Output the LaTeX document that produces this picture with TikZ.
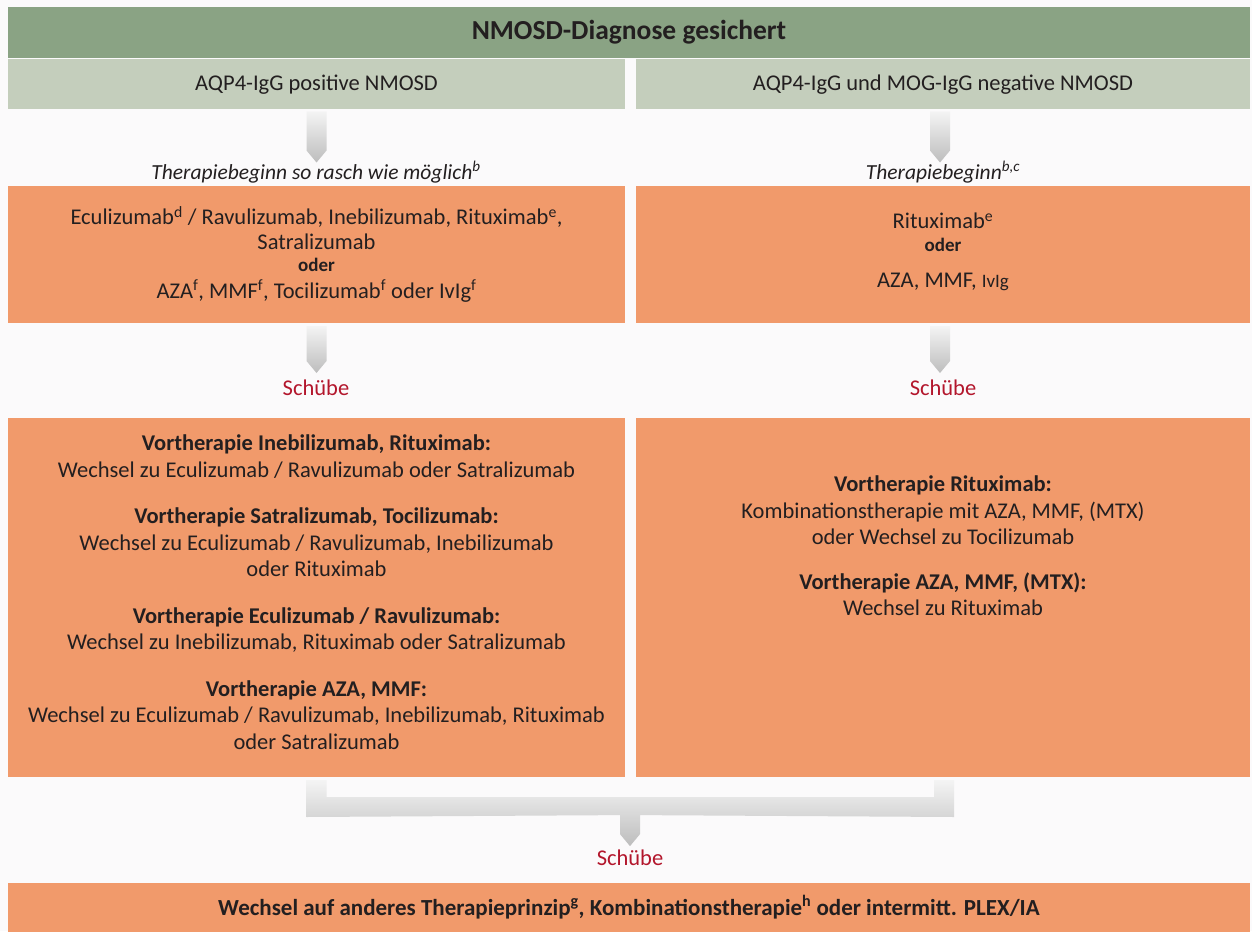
\documentclass[tikz,border=0pt]{standalone}
\usepackage{fontspec}
\setmainfont{Carlito}
\usetikzlibrary{calc}
\definecolor{dgreen}{HTML}{8AA384}
\definecolor{lgreen}{HTML}{C4CEBC}
\definecolor{orng}{HTML}{F19A6B}
\definecolor{txt}{HTML}{231F20}
\definecolor{schred}{HTML}{B3162C}
\definecolor{bgc}{HTML}{FBFAFB}
\definecolor{arrtop}{HTML}{F4F4F4}
\definecolor{arrbot}{HTML}{BDBDBD}
\begin{document}
\begin{tikzpicture}[x=1pt,y=-1pt,
  every node/.style={inner sep=0pt, outer sep=0pt, text=txt},
  hdr/.style={fill=lgreen, minimum height=50pt, font=\fontsize{22.5}{26}\selectfont},
  obox/.style={fill=orng},
  body/.style={align=center, font=\fontsize{22.5}{26.5}\selectfont},
  note/.style={font=\itshape\fontsize{21.5}{24}\selectfont},
  schub/.style={text=schred, font=\fontsize{22.5}{26}\selectfont},
  garrow/.style={top color=arrtop, bottom color=arrbot, draw=none}
]
\fill[bgc] (0,0) rectangle (1252,931);
\useasboundingbox (0,0) rectangle (1252,931);

% top bar
\node[fill=dgreen, minimum width=1242pt, minimum height=51pt,
      font=\bfseries\fontsize{27.5}{30}\selectfont] (top) at (629,32.5) {NMOSD-Diagnose gesichert};

% headers
\node[hdr, minimum width=617pt] (hl) at (316.5,84.5) {AQP4-IgG positive NMOSD};
\node[hdr, minimum width=614pt] (hr) at (943,84.5) {AQP4-IgG und MOG-IgG negative NMOSD};

% notes
\node[note] (nl) at (316,172) {Therapiebeginn so rasch wie möglich\textsuperscript{b}};
\node[note] (nr) at (943,172) {Therapiebeginn\textsuperscript{b,c}};

% row 1 boxes
\node[obox, minimum width=617pt, minimum height=137pt] (l1) at (316.5,254.5) {};
\node[obox, minimum width=614pt, minimum height=137pt] (r1) at (943,254.5) {};
\node[body] (l1t) at (316.5,254) {Eculizumab\textsuperscript{d} / Ravulizumab, Inebilizumab, Rituximab\textsuperscript{e},\\[-2pt]
  Satralizumab\\[-4pt]
  {\bfseries\fontsize{19}{22}\selectfont oder}\\
  AZA\textsuperscript{f}, MMF\textsuperscript{f}, Tocilizumab\textsuperscript{f} oder IvIg\textsuperscript{f}};
\node[body] (r1t) at (943,252) {Rituximab\textsuperscript{e}\\[-4pt]
  {\bfseries\fontsize{19}{22}\selectfont oder}\\[10pt]
  AZA, MMF, {\fontsize{19}{22}\selectfont IvIg}};

% Schübe labels
\node[schub] (sl) at (316,388) {Schübe};
\node[schub] (sr) at (943,388) {Schübe};

% row 2 boxes
\node[obox, minimum width=617pt, minimum height=359pt] (l2) at (316.5,597.5) {};
\node[obox, minimum width=614pt, minimum height=359pt] (r2) at (943,597.5) {};
\node[body] (l2t) at (316.5,592) {{\bfseries Vortherapie Inebilizumab, Rituximab:}\\
  Wechsel zu Eculizumab / Ravulizumab oder Satralizumab\\[20pt]
  {\bfseries Vortherapie Satralizumab, Tocilizumab:}\\
  Wechsel zu Eculizumab / Ravulizumab, Inebilizumab\\
  oder Rituximab\\[20pt]
  {\bfseries Vortherapie Eculizumab / Ravulizumab:}\\
  Wechsel zu Inebilizumab, Rituximab oder Satralizumab\\[20pt]
  {\bfseries Vortherapie AZA, MMF:}\\
  Wechsel zu Eculizumab / Ravulizumab, Inebilizumab, Rituximab\\
  oder Satralizumab};
\node[body] (r2t) at (943,546) {{\bfseries Vortherapie Rituximab:}\\
  Kombinationstherapie mit AZA, MMF, (MTX)\\
  oder Wechsel zu Tocilizumab\\[18pt]
  {\bfseries Vortherapie AZA, MMF, (MTX):}\\
  Wechsel zu Rituximab};

% final
\node[schub] (sb) at (630,858) {Schübe};
\node[obox, minimum width=1242pt, minimum height=49pt,
      font=\bfseries\fontsize{23}{26}\selectfont] (fin) at (629,907.5)
  {Wechsel auf anderes Therapieprinzip\textsuperscript{g}, Kombinationstherapie\textsuperscript{h} oder intermitt. PLEX/IA};

% gray arrows
\newcommand\grayarrow[2]{%
  \shade[garrow] ($(#1)+(-10,0)$) -- ($(#1)+(10,0)$) -- ($(#2)+(10,-12)$) -- (#2) -- ($(#2)+(-10,-12)$) -- cycle;}
\coordinate (a1s) at ($(hl.south)+(0,2)$);
\coordinate (a1e) at ($(hl.south)+(0,53)$);
\grayarrow{a1s}{a1e}
\coordinate (a2s) at ($(hr.south)+(-3,2)$);
\coordinate (a2e) at ($(hr.south)+(-3,53)$);
\grayarrow{a2s}{a2e}
\coordinate (a3s) at ($(l1.south)+(0,3)$);
\coordinate (a3e) at ($(l1.south)+(0,50)$);
\grayarrow{a3s}{a3e}
\coordinate (a4s) at ($(r1.south)+(-3,3)$);
\coordinate (a4e) at ($(r1.south)+(-3,50)$);
\grayarrow{a4s}{a4e}

% bracket
\coordinate (bl) at ($(l2.south)+(0,3)$);
\coordinate (br) at ($(r2.south)+(1,3)$);
\coordinate (bt) at ($(sb.north)+(0,-4)$);
\shade[garrow] ($(bl)+(-10,0)$) -- ($(bl)+(10,0)$) -- ($(bl)+(10,17)$) -- ($(br)+(-10,17)$)
  -- ($(br)+(-10,0)$) -- ($(br)+(10,0)$) -- ($(br)+(10,37)$)
  -- ($(bt)+(10,-31)$) -- ($(bt)+(10,-12)$) -- (bt) -- ($(bt)+(-10,-12)$) -- ($(bt)+(-10,-31)$)
  -- ($(bl)+(-10,37)$) -- cycle;
\end{tikzpicture}
\end{document}
